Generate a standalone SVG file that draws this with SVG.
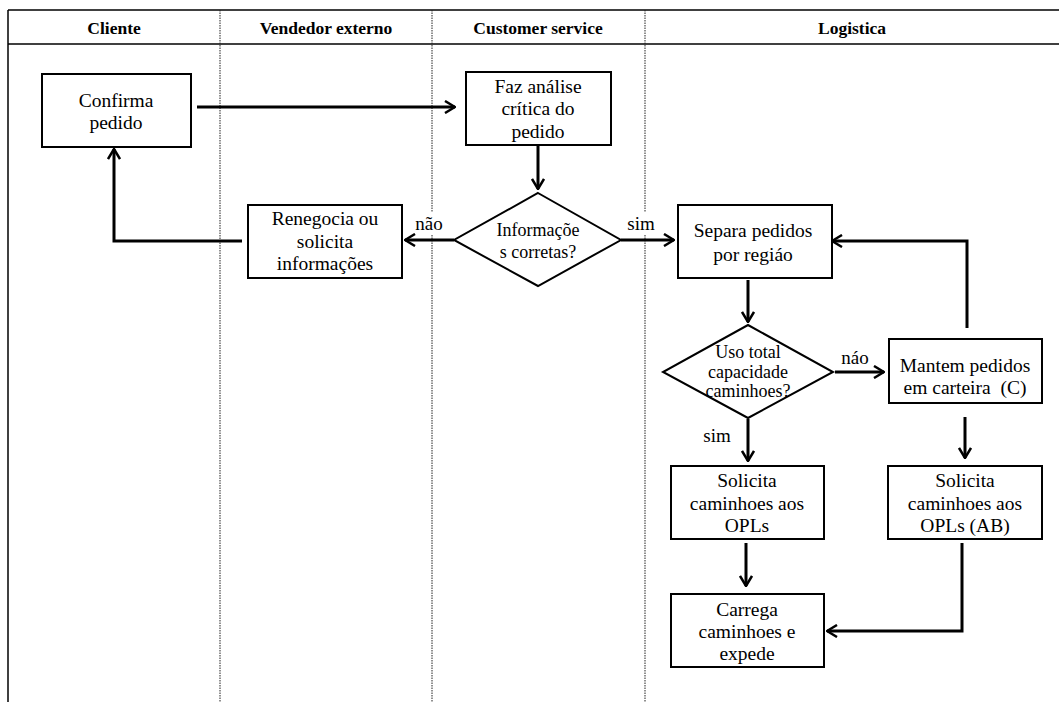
<svg xmlns="http://www.w3.org/2000/svg" width="1059" height="702" viewBox="0 0 1059 702">
<style>
  .frame{stroke:#000;stroke-width:1.5;fill:none}
  .div{stroke:#222;stroke-width:1;stroke-dasharray:1.5 1;fill:none}
  .hdr{font-family:"Liberation Serif","Times New Roman",serif;font-weight:bold;font-size:17.5px;text-anchor:middle;fill:#000}
  .box{fill:#fff;stroke:#000;stroke-width:2}
  .t{font-family:"Liberation Serif","Times New Roman",serif;font-size:19.5px;text-anchor:middle;fill:#000}
  .td{font-family:"Liberation Serif","Times New Roman",serif;font-size:18px;text-anchor:middle;fill:#000}
  .lbl{font-family:"Liberation Serif","Times New Roman",serif;font-size:19px;text-anchor:middle;fill:#000}
  .c{fill:none;stroke:#000;stroke-width:3}
</style>
<defs>
  <marker id="arr" viewBox="0 0 12 14" refX="11" refY="7" markerWidth="12" markerHeight="14" markerUnits="userSpaceOnUse" orient="auto">
    <path d="M1,1 L11,7 L1,13" fill="none" stroke="#000" stroke-width="2.5"/>
  </marker>
</defs>
<rect x="0" y="0" width="1059" height="702" fill="#fff"/>
<g id="lanes">
  <line class="frame" x1="8" y1="10" x2="1059" y2="10"/>
  <line class="frame" x1="8" y1="44" x2="1059" y2="44"/>
  <line class="frame" x1="8" y1="10" x2="8" y2="702"/>
  <line class="div" x1="220" y1="10" x2="220" y2="702"/>
  <line class="div" x1="432" y1="10" x2="432" y2="702"/>
  <line class="div" x1="645" y1="10" x2="645" y2="702"/>
  <text class="hdr" x="114" y="34">Cliente</text>
  <text class="hdr" x="326" y="34">Vendedor externo</text>
  <text class="hdr" x="538" y="34">Customer service</text>
  <text class="hdr" x="852" y="34">Logistica</text>
</g>
<g id="connectors">
  <line class="c" x1="197" y1="107" x2="455" y2="107" marker-end="url(#arr)"/>
  <line class="c" x1="538" y1="146" x2="538" y2="189" marker-end="url(#arr)"/>
  <rect x="414" y="212" width="32" height="22" fill="#fff"/>
  <line class="c" x1="454" y1="240" x2="405" y2="240" marker-end="url(#arr)"/>
  <rect x="624" y="212" width="34" height="22" fill="#fff"/>
  <line class="c" x1="621" y1="240" x2="674" y2="240" marker-end="url(#arr)"/>
  <polyline class="c" points="242,241 114,241 114,149" marker-end="url(#arr)"/>
  <line class="c" x1="748" y1="280" x2="748" y2="322" marker-end="url(#arr)"/>
  <polyline class="c" points="967,328 967,241 832,241" marker-end="url(#arr)"/>
  <line class="c" x1="835" y1="372" x2="884" y2="372" marker-end="url(#arr)"/>
  <line class="c" x1="748" y1="419" x2="748" y2="461" marker-end="url(#arr)"/>
  <line class="c" x1="965" y1="417" x2="965" y2="458" marker-end="url(#arr)"/>
  <line class="c" x1="746" y1="543" x2="746" y2="586" marker-end="url(#arr)"/>
  <polyline class="c" points="962,543 962,631 827,631" marker-end="url(#arr)"/>
  <text class="lbl" x="429" y="230">não</text>
  <text class="lbl" x="641" y="230">sim</text>
  <text class="lbl" x="855" y="364">náo</text>
  <text class="lbl" x="717" y="442">sim</text>
</g>
<g id="confirma">
  <rect class="box" x="42" y="74" width="149" height="73"/>
  <text class="t" x="116" y="107">Confirma</text>
  <text class="t" x="116" y="129">pedido</text>
</g>
<g id="faz">
  <rect class="box" x="466" y="72" width="145" height="73"/>
  <text class="t" x="538" y="93">Faz análise</text>
  <text class="t" x="538" y="115">crítica do</text>
  <text class="t" x="538" y="138">pedido</text>
</g>
<g id="informacoes">
  <polygon class="box" points="538,193 621,240 538,286 454,240"/>
  <text class="td" x="538" y="236">Informaçõe</text>
  <text class="td" x="538" y="258">s corretas?</text>
</g>
<g id="renegocia">
  <rect class="box" x="248" y="205" width="154" height="73"/>
  <text class="t" x="325" y="225">Renegocia ou</text>
  <text class="t" x="325" y="248">solicita</text>
  <text class="t" x="325" y="270">informações</text>
</g>
<g id="separa">
  <rect class="box" x="678" y="205" width="154" height="73"/>
  <text class="t" x="753" y="237">Separa pedidos</text>
  <text class="t" x="753" y="261">por regiáo</text>
</g>
<g id="uso">
  <polygon class="box" points="748,325 833,372 748,418 663,372"/>
  <text class="td" x="748" y="358">Uso total</text>
  <text class="td" x="748" y="378">capacidade</text>
  <text class="td" x="748" y="397">caminhoes?</text>
</g>
<g id="mantem">
  <rect class="box" x="889" y="339" width="153" height="64"/>
  <text class="t" x="965" y="372">Mantem pedidos</text>
  <text class="t" x="965" y="394" xml:space="preserve">em carteira  (C)</text>
</g>
<g id="solicita1">
  <rect class="box" x="671" y="466" width="153" height="73"/>
  <text class="t" x="747" y="487">Solicita</text>
  <text class="t" x="747" y="510">caminhoes aos</text>
  <text class="t" x="747" y="532">OPLs</text>
</g>
<g id="solicita2">
  <rect class="box" x="888" y="466" width="154" height="73"/>
  <text class="t" x="965" y="487">Solicita</text>
  <text class="t" x="965" y="510">caminhoes aos</text>
  <text class="t" x="965" y="532">OPLs (AB)</text>
</g>
<g id="carrega">
  <rect class="box" x="671" y="594" width="153" height="73"/>
  <text class="t" x="747" y="616">Carrega</text>
  <text class="t" x="747" y="638">caminhoes e</text>
  <text class="t" x="747" y="660">expede</text>
</g>
</svg>
